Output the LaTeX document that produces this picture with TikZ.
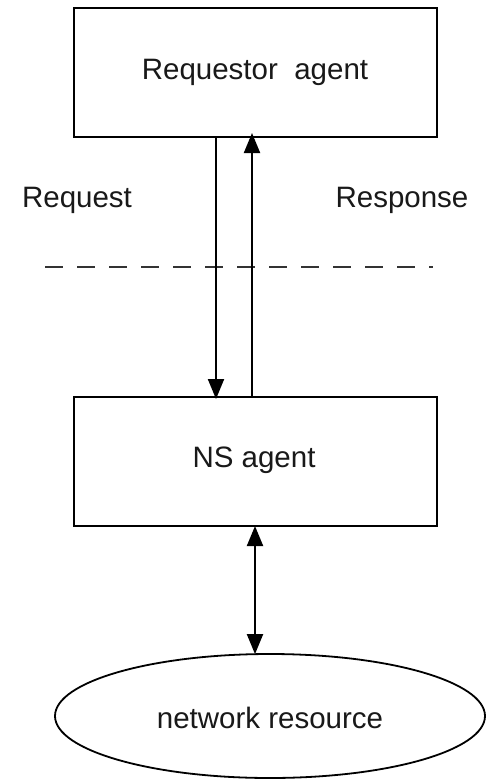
\documentclass[tikz,border=0pt]{standalone}
\usepackage{fontspec}
\setmainfont{Liberation Sans}
\usetikzlibrary{arrows.meta,shapes.geometric}
\begin{document}
\begin{tikzpicture}[x=1pt,y=-1pt,
  every node/.style={font=\fontsize{29.5}{35}\selectfont, text=black!90},
  box/.style={draw=black, line width=2pt, fill=white, minimum width=363pt, minimum height=129pt, inner sep=0pt},
  res/.style={ellipse, draw=black, line width=1.8pt, fill=white, minimum width=430pt, minimum height=124pt, inner sep=0pt},
  arr/.style={line width=2pt, -{Triangle[length=20pt,width=16pt]}},
  darr/.style={line width=2pt, {Triangle[length=20pt,width=16pt]}-{Triangle[length=20pt,width=16pt]}},
  lbl/.style={inner sep=0pt}]
\useasboundingbox (0,0) rectangle (488,780);
\fill[white] (0,0) rectangle (488,780);
\node[box] (req) at (255.5,72.5) {};
\node[lbl] (reqt) at (255,72) {Requestor\ \ agent};
\node[box] (ns) at (255.5,461.5) {};
\node[lbl] (nst) at (254,460) {NS agent};
\node[res] (nr) at (270,716) {};
\node[lbl] (nrt) at (270,718) {network resource};
\node[lbl] (rq) at (77,200) {Request};
\node[lbl] (rs) at (402,200) {Response};
\coordinate (dl) at (45,267);
\coordinate (dr) at (433,267);
\draw[line width=1.8pt, black!80, dash pattern=on 18pt off 14pt] (dl) -- (dr);
\coordinate (xa) at (216,0);
\coordinate (xb) at (252,0);
\coordinate (xc) at (255,0);
\draw[arr] (req.south -| xa) -- ([yshift=-3pt]ns.north -| xa);
\draw[arr] (ns.north -| xb) -- ([yshift=5pt]req.south -| xb);
\draw[darr] ([yshift=1pt]ns.south -| xc) -- ([yshift=-1pt]nr.north -| xc);
\end{tikzpicture}
\end{document}
